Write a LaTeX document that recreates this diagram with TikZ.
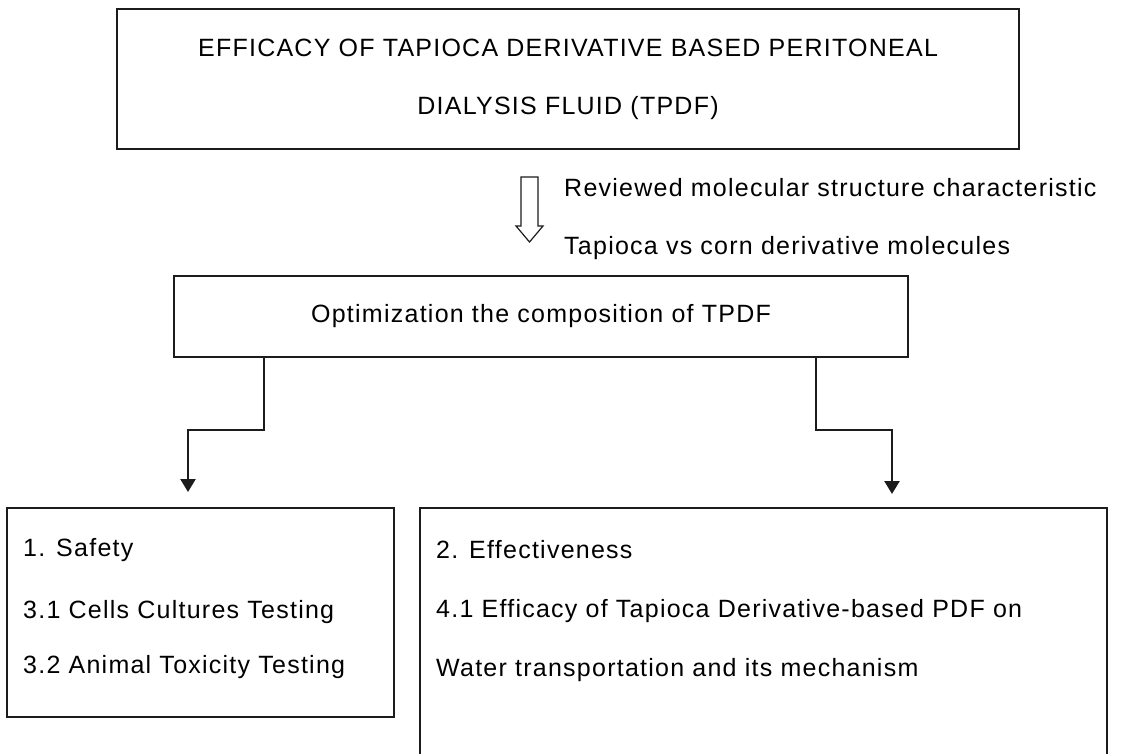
\documentclass[tikz,border=0pt]{standalone}
\usepackage{fontspec}
\setmainfont{Liberation Sans}[LetterSpace=5]
\usepackage{xcolor}
\usetikzlibrary{arrows.meta, positioning}
\definecolor{inkgray}{RGB}{28,28,28}

\begin{document}
\begin{tikzpicture}[x=1pt, y=-1pt,
  box/.style={draw=inkgray, line width=1.8pt, inner sep=0pt},
  txt/.style={font=\fontsize{25}{30}\selectfont, inner sep=0pt, anchor=west},
  link/.style={draw=inkgray, line width=2.4pt, -{Triangle[width=15pt,length=13pt]}}]
  \clip (0,0) rectangle (1126,754);

  % Title
  \node[box, minimum width=902pt, minimum height=140pt, align=center,
        font=\fontsize{25}{58}\selectfont] (goal) at (568,79)
        {EFFICACY OF TAPIOCA DERIVATIVE BASED PERITONEAL\\DIALYSIS FLUID (TPDF)};

  % Review step
  \draw[inkgray, line width=1.2pt] (521,177) -- (538,177) -- (538,226) -- (543,226)
        -- (529.5,242) -- (516,226) -- (521,226) -- cycle;
  \node[txt] (review) at (564,188) {Reviewed molecular structure characteristic};
  \node[txt] (compare) at (564,248) {Tapioca vs corn derivative molecules};

  % Optimization
  \node[box, minimum width=734pt, minimum height=81pt,
        font=\fontsize{25}{30}\selectfont] (opt) at (541,316.5)
        {Optimization the composition of TPDF};

  % Two branches
  \node[box, minimum width=387pt, minimum height=209pt] (safety) at (200.5,612.5) {};
  \node[box, minimum width=687pt, minimum height=262pt] (effect) at (763.5,639) {};

  \node[txt] (s0) at (23,550) {1. Safety};
  \node[txt] (s1) at (23,612) {3.1 Cells Cultures Testing};
  \node[txt] (s2) at (23,667) {3.2 Animal Toxicity Testing};

  \node[txt] (e0) at (436,550) {2. Effectiveness};
  \node[txt] (e1) at (436,611) {4.1 Efficacy of Tapioca Derivative-based PDF on};
  \node[txt] (e2) at (436,670) {Water transportation and its mechanism};

  % Connectors
  \coordinate (lturn) at (264,430);
  \coordinate (rturn) at (816,430);
  \coordinate (ltip) at (188,492);
  \coordinate (rtip) at (892,494);
  \draw[link] (opt.south -| lturn) -- (lturn) -| (ltip);
  \draw[link] (opt.south -| rturn) -- (rturn) -| (rtip);
\end{tikzpicture}
\end{document}
